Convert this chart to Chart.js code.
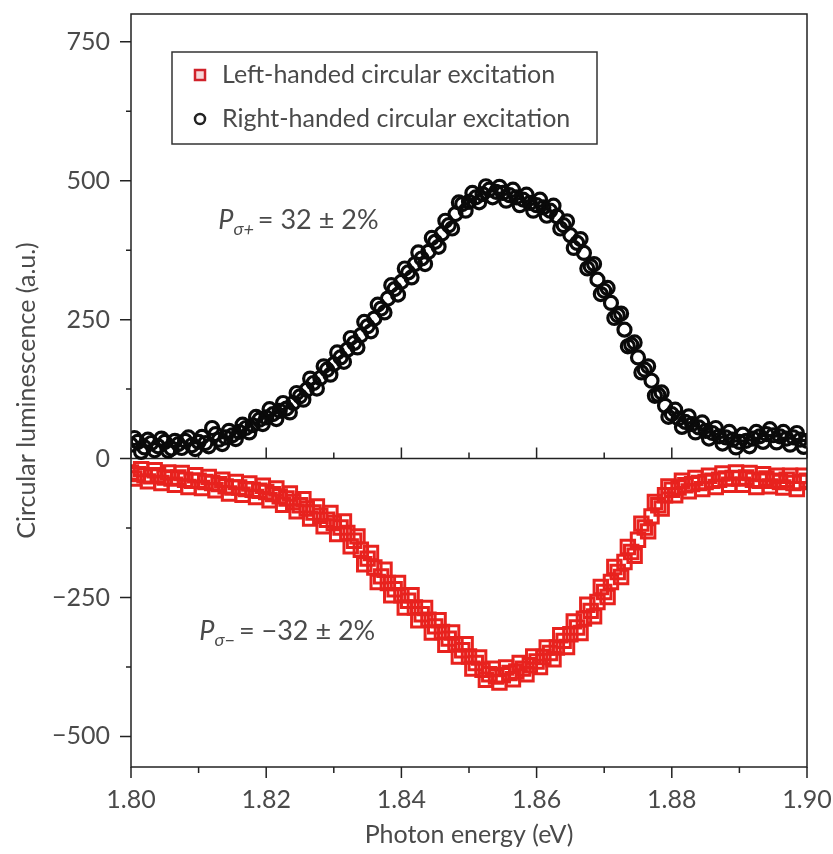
<!DOCTYPE html>
<html>
<head>
<meta charset="utf-8">
<script src="https://cdn.jsdelivr.net/npm/chart.js@4.4.0/dist/chart.umd.min.js"></script>
<style>
  html, body { margin: 0; padding: 0; background: #fff; }
  #wrap { width: 833px; height: 854px; }
</style>
</head>
<body>
<div id="wrap"><canvas id="myChart" width="833" height="854"></canvas></div>
<script>
// Photon energy (eV), primer barrido
const energies = [
  1.800, 1.801, 1.802, 1.803, 1.804, 1.805, 1.806, 1.807, 1.808, 1.809,
  1.810, 1.811, 1.812, 1.813, 1.814, 1.815, 1.816, 1.817, 1.818, 1.819,
  1.820, 1.821, 1.822, 1.823, 1.824, 1.825, 1.826, 1.827, 1.828, 1.829,
  1.830, 1.831, 1.832, 1.833, 1.834, 1.835, 1.836, 1.837, 1.838, 1.839,
  1.840, 1.841, 1.842, 1.843, 1.844, 1.845, 1.846, 1.847, 1.848, 1.849,
  1.850, 1.851, 1.852, 1.853, 1.854, 1.855, 1.856, 1.857, 1.858, 1.859,
  1.860, 1.861, 1.862, 1.863, 1.864, 1.865, 1.866, 1.867, 1.868, 1.869,
  1.870, 1.871, 1.872, 1.873, 1.874, 1.875, 1.876, 1.877, 1.878, 1.879,
  1.880, 1.881, 1.882, 1.883, 1.884, 1.885, 1.886, 1.887, 1.888, 1.889,
  1.890, 1.891, 1.892, 1.893, 1.894, 1.895, 1.896, 1.897, 1.898, 1.899,
  1.900
];

// Photon energy (eV), segundo barrido (medios pasos)
const energiesHalf = [
  1.8005, 1.8015, 1.8025, 1.8035, 1.8045, 1.8055, 1.8065, 1.8075, 1.8085, 1.8095,
  1.8105, 1.8115, 1.8125, 1.8135, 1.8145, 1.8155, 1.8165, 1.8175, 1.8185, 1.8195,
  1.8205, 1.8215, 1.8225, 1.8235, 1.8245, 1.8255, 1.8265, 1.8275, 1.8285, 1.8295,
  1.8305, 1.8315, 1.8325, 1.8335, 1.8345, 1.8355, 1.8365, 1.8375, 1.8385, 1.8395,
  1.8405, 1.8415, 1.8425, 1.8435, 1.8445, 1.8455, 1.8465, 1.8475, 1.8485, 1.8495,
  1.8505, 1.8515, 1.8525, 1.8535, 1.8545, 1.8555, 1.8565, 1.8575, 1.8585, 1.8595,
  1.8605, 1.8615, 1.8625, 1.8635, 1.8645, 1.8655, 1.8665, 1.8675, 1.8685, 1.8695,
  1.8705, 1.8715, 1.8725, 1.8735, 1.8745, 1.8755, 1.8765, 1.8775, 1.8785, 1.8795,
  1.8805, 1.8815, 1.8825, 1.8835, 1.8845, 1.8855, 1.8865, 1.8875, 1.8885, 1.8895,
  1.8905, 1.8915, 1.8925, 1.8935, 1.8945, 1.8955, 1.8965, 1.8975, 1.8985, 1.8995
];

// Right-handed circular excitation (circulos negros)
const rightHanded = [
  25, 30, 20, 28, 22, 30, 18, 26, 32, 24,
  30, 28, 55, 34, 38, 42, 48, 55, 60, 70,
  74, 80, 86, 90, 100, 112, 124, 136, 145, 160,
  170, 182, 196, 208, 222, 238, 252, 270, 288, 305,
  318, 335, 350, 360, 372, 390, 405, 420, 440, 458,
  462, 470, 476, 484, 480, 478, 474, 470, 466, 460,
  456, 452, 446, 436, 420, 402, 388, 370, 346, 322,
  302, 280, 258, 232, 205, 182, 160, 140, 115, 95,
  80, 72, 66, 62, 56, 50, 46, 40, 38, 34,
  30, 32, 36, 40, 44, 42, 40, 36, 38, 34,
  32
];
const rightHandedHalf = [
  37, 12, 34, 15, 36, 14, 32, 19, 38, 17,
  39, 22, 44, 26, 50, 35, 61, 47, 75, 62,
  89, 71, 100, 83, 118, 106, 144, 126, 166, 151,
  191, 174, 217, 200, 246, 229, 277, 263, 312, 295,
  342, 326, 371, 350, 397, 381, 428, 414, 461, 446,
  478, 461, 490, 470, 489, 464, 484, 456, 475, 446,
  466, 437, 455, 414, 427, 379, 395, 342, 350, 296,
  307, 253, 261, 202, 209, 155, 166, 113, 119, 75,
  88, 57, 76, 47, 65, 36, 55, 27, 48, 20,
  43, 22, 48, 30, 53, 29, 48, 25, 46, 21
];

// Left-handed circular excitation (cuadrados rojos)
const leftHanded = [
  -25, -28, -30, -32, -30, -34, -36, -34, -38, -40,
  -40, -42, -44, -46, -50, -52, -52, -55, -56, -58,
  -60, -64, -68, -72, -78, -84, -90, -97, -103, -110,
  -116, -124, -134, -148, -164, -180, -196, -212, -224, -235,
  -246, -256, -268, -280, -290, -302, -312, -324, -334, -345,
  -356, -368, -380, -388, -392, -390, -386, -383, -378, -372,
  -365, -357, -350, -340, -328, -316, -304, -288, -274, -258,
  -240, -222, -204, -186, -168, -146, -124, -104, -84, -66,
  -56, -52, -48, -46, -44, -42, -40, -38, -36, -35,
  -36, -34, -38, -40, -36, -40, -42, -38, -44, -42,
  -40
];
const leftHandedHalf = [
  -36, -19, -41, -21, -44, -25, -47, -26, -51, -30,
  -53, -33, -57, -38, -63, -42, -65, -45, -69, -49,
  -75, -54, -83, -63, -95, -73, -108, -86, -122, -98,
  -136, -113, -158, -140, -190, -170, -222, -200, -246, -224,
  -268, -246, -291, -269, -313, -291, -335, -313, -356, -334,
  -378, -358, -398, -378, -403, -376, -397, -368, -388, -356,
  -375, -340, -361, -318, -339, -293, -314, -263, -284, -231,
  -249, -195, -213, -159, -175, -117, -131, -78, -90, -50,
  -66, -40, -59, -35, -55, -31, -51, -27, -47, -25,
  -47, -26, -51, -28, -50, -31, -52, -31, -55, -31
];

const seriesLabels = ['Left-handed circular excitation', 'Right-handed circular excitation'];
const xTickValues = [1.80, 1.82, 1.84, 1.86, 1.88, 1.90];
const xMinorValues = [1.81, 1.83, 1.85, 1.87, 1.89];
const yTickValues = [-500, -250, 0, 250, 500, 750];
const yMinorValues = [-375, -125, 125, 375, 625];

const FONT = 'Lato, "Open Sans", sans-serif';
const TEXT_COLOR = '#4a4a4a';
const AXIS_COLOR = '#222';
const RED = '#e8221e';

Chart.defaults.font.family = FONT;
Chart.defaults.color = TEXT_COLOR;

const ctx = document.getElementById('myChart').getContext('2d');

function toPoints(xs, ys) {
  return xs.map((e, i) => ({ x: e, y: ys[i] }));
}

// sin relleno extra de las etiquetas en los bordes
function noScalePadding(scale) {
  scale.paddingLeft = 0;
  scale.paddingRight = 0;
  scale.paddingTop = 0;
  scale.paddingBottom = 0;
}

// caja, ticks menores, linea del cero, leyenda y anotaciones
const decorations = {
  id: 'decorations',
  beforeDatasetsDraw(chart) {
    const { ctx, chartArea: a, scales: { x, y } } = chart;
    const y0 = y.getPixelForValue(0);
    ctx.save();
    ctx.strokeStyle = AXIS_COLOR;
    ctx.lineWidth = 1.5;
    ctx.beginPath();
    ctx.moveTo(a.left, y0);
    ctx.lineTo(a.right, y0);
    xTickValues.forEach(v => {
      const px = x.getPixelForValue(v);
      ctx.moveTo(px, y0);
      ctx.lineTo(px, y0 - 11);
    });
    xMinorValues.forEach(v => {
      const px = x.getPixelForValue(v);
      ctx.moveTo(px, y0);
      ctx.lineTo(px, y0 - 6);
    });
    ctx.stroke();
    ctx.restore();
  },
  afterDraw(chart) {
    const { ctx, chartArea: a, scales: { x, y } } = chart;
    ctx.save();
    ctx.strokeStyle = AXIS_COLOR;
    ctx.lineWidth = 1.5;
    ctx.strokeRect(a.left, a.top, a.right - a.left, a.bottom - a.top);

    ctx.beginPath();
    xTickValues.forEach(v => {
      const px = x.getPixelForValue(v);
      ctx.moveTo(px, a.bottom);
      ctx.lineTo(px, a.bottom + 11);
    });
    xMinorValues.forEach(v => {
      const px = x.getPixelForValue(v);
      ctx.moveTo(px, a.bottom);
      ctx.lineTo(px, a.bottom + 6);
    });
    yTickValues.forEach(v => {
      const py = y.getPixelForValue(v);
      ctx.moveTo(a.left, py);
      ctx.lineTo(a.left - 11, py);
    });
    yMinorValues.forEach(v => {
      const py = y.getPixelForValue(v);
      ctx.moveTo(a.left, py);
      ctx.lineTo(a.left - 5, py);
    });
    ctx.stroke();

    // leyenda
    const lx = a.left + 41, ly = a.top + 38;
    ctx.lineWidth = 1.5;
    ctx.strokeStyle = '#333';
    ctx.strokeRect(lx, ly, 425, 92);
    ctx.lineWidth = 2.5;
    ctx.strokeStyle = '#d0222a';
    ctx.fillStyle = '#f6d8da';
    ctx.fillRect(lx + 23, ly + 18, 10, 10);
    ctx.strokeRect(lx + 23, ly + 18, 10, 10);
    ctx.strokeStyle = '#222';
    ctx.beginPath();
    ctx.arc(lx + 28, ly + 67, 5, 0, Math.PI * 2);
    ctx.stroke();
    ctx.fillStyle = TEXT_COLOR;
    ctx.font = '25px ' + FONT;
    ctx.textBaseline = 'middle';
    ctx.fillText(seriesLabels[0], lx + 50, ly + 23);
    ctx.fillText(seriesLabels[1], lx + 50, ly + 67);

    // anotaciones de polarizacion
    const drawP = (ex, val, sub, rest) => {
      let px = x.getPixelForValue(ex), py = y.getPixelForValue(val);
      ctx.textBaseline = 'alphabetic';
      ctx.font = 'italic 27px ' + FONT;
      ctx.fillText('P', px, py);
      px += ctx.measureText('P').width;
      ctx.font = 'italic 18px ' + FONT;
      ctx.fillText(sub, px, py + 6);
      px += ctx.measureText(sub).width;
      ctx.font = '27px ' + FONT;
      ctx.fillText(rest, px + 4, py);
    };
    drawP(1.8129, 414, 'σ+', '= 32 ± 2%');
    drawP(1.8101, -327, 'σ−', '= −32 ± 2%');
    ctx.restore();
  }
};

new Chart(ctx, {
  type: 'scatter',
  data: {
    datasets: [
      {
        label: seriesLabels[0],
        data: toPoints(energies, leftHanded).concat(toPoints(energiesHalf, leftHandedHalf)),
        pointStyle: 'rect',
        pointRadius: 9.5,
        borderWidth: 3,
        borderColor: RED,
        backgroundColor: 'rgba(0,0,0,0)'
      },
      {
        label: seriesLabels[1],
        data: toPoints(energies, rightHanded).concat(toPoints(energiesHalf, rightHandedHalf)),
        pointStyle: 'circle',
        pointRadius: 6.5,
        borderWidth: 3.2,
        borderColor: '#0a0a0a',
        backgroundColor: 'rgba(0,0,0,0)'
      }
    ]
  },
  options: {
    responsive: false,
    animation: false,
    events: [],
    layout: { padding: { left: 0, right: 26, top: 14, bottom: 0 } },
    plugins: {
      legend: { display: false },
      tooltip: { enabled: false }
    },
    scales: {
      x: {
        type: 'linear',
        min: 1.8,
        max: 1.9,
        afterBuildTicks: scale => { scale.ticks = xTickValues.map(v => ({ value: v })); },
        afterFit: scale => { scale.height = 87; noScalePadding(scale); },
        grid: { display: false, drawTicks: false },
        border: { display: false },
        ticks: {
          padding: 18,
          font: { size: 25 },
          color: TEXT_COLOR,
          maxRotation: 0,
          callback: v => v.toFixed(2)
        },
        title: {
          display: true,
          text: 'Photon energy (eV)',
          font: { size: 25 },
          color: TEXT_COLOR,
          padding: { top: 0, bottom: 4 }
        }
      },
      y: {
        type: 'linear',
        min: -555,
        max: 800,
        afterBuildTicks: scale => { scale.ticks = yTickValues.map(v => ({ value: v })); },
        afterFit: scale => { scale.width = 131; noScalePadding(scale); },
        grid: { display: false, drawTicks: false },
        border: { display: false },
        ticks: {
          padding: 21,
          font: { size: 25 },
          color: TEXT_COLOR,
          callback: v => v < 0 ? '\u2212' + Math.abs(v) : String(v)
        },
        title: {
          display: true,
          text: 'Circular luminescence (a.u.)',
          font: { size: 25 },
          color: TEXT_COLOR,
          padding: { top: 12, bottom: 0 }
        }
      }
    }
  },
  plugins: [decorations]
});
</script>
</body>
</html>
